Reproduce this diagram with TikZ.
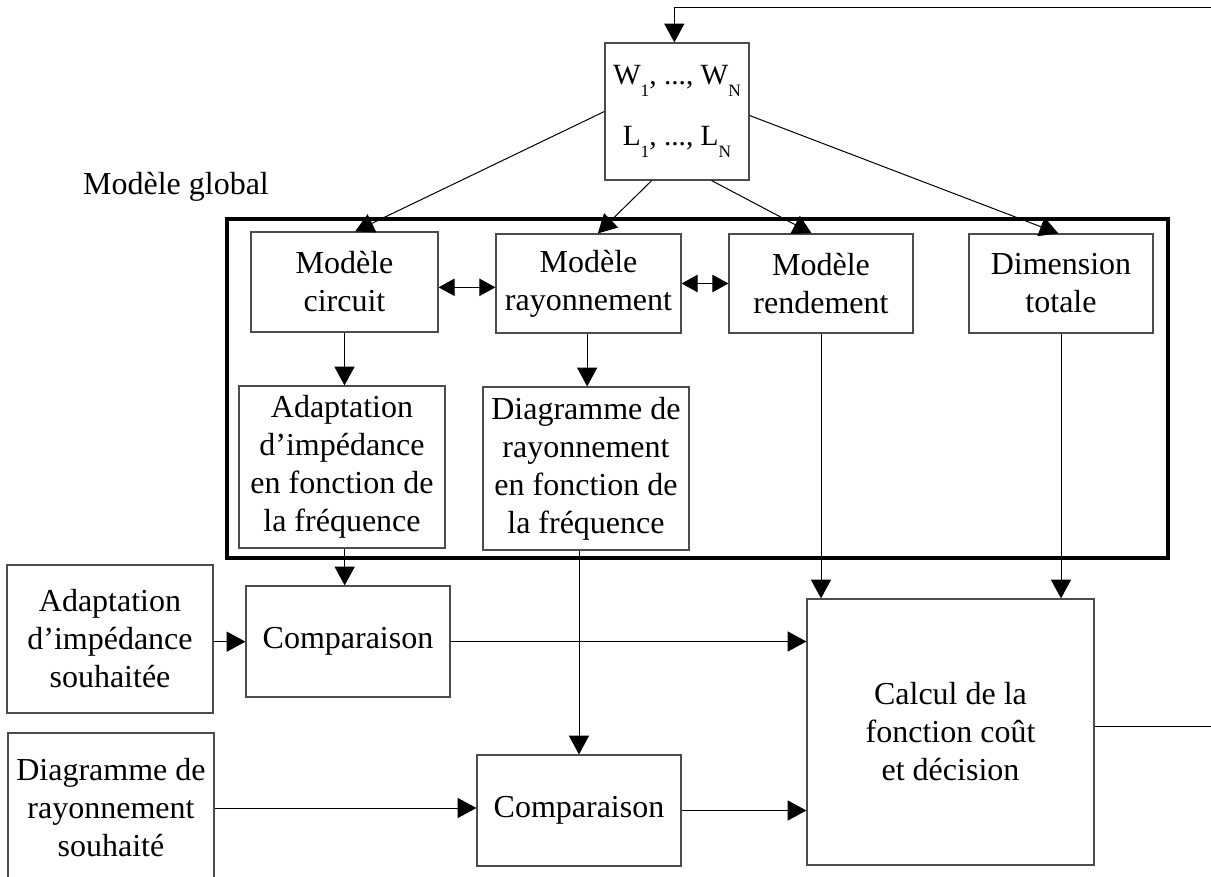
\documentclass[tikz,border=0pt]{standalone}
\usepackage{fontspec}
\setmainfont{Liberation Serif}
\usetikzlibrary{arrows.meta,calc}
\newcommand{\sbs}[1]{\raisebox{-0.4em}{\fontsize{13}{13}\selectfont #1}}
\begin{document}
\begin{tikzpicture}[x=0.75pt,y=-0.75pt,
  txt/.style={font=\fontsize{24}{28.5}\selectfont},
  bx/.style n args={2}{draw=black!70, line width=0.9pt, inner sep=0pt, align=center, txt,
     minimum width=#1*0.75pt, minimum height=#2*0.75pt},
  conn/.style={line width=0.75pt, draw=black},
  arr/.style={conn, -{Triangle[length=14pt,width=15pt]}},
  darr/.style={conn, {Triangle[length=12pt,width=13pt]}-{Triangle[length=12pt,width=13pt]}},
  frame/.style={draw=black, line width=2.4pt}
]
\useasboundingbox (0,0) rectangle (1211,877);

% big frame
\draw[frame] (227,219) rectangle (1168,558);
\node[txt, anchor=base] (glob) at (176,195) {Modèle global};

% nodes
\node[bx={144}{137}, font=\fontsize{22}{26}\selectfont] (W) at (677,111.5) {W\sbs{1}, ..., W\sbs{N}\\[20pt] L\sbs{1}, ..., L\sbs{N}};
\node[bx={187}{100}] (circ) at (344.5,282) {Modèle\\circuit};
\node[bx={185}{99}] (ray) at (588.5,283.5) {Modèle\\rayonnement};
\node[bx={184}{99}] (rend) at (821,283.5) {Modèle\\rendement};
\node[bx={184}{99}] (dim) at (1061,283.5) {Dimension\\totale};
\node[bx={206}{162}] (adapt) at (342,467) {Adaptation\\d'impédance\\en fonction de\\la fréquence};
\node[bx={206}{163}] (diag) at (586,468.5) {Diagramme de\\rayonnement\\en fonction de\\la fréquence};
\node[bx={204}{111}] (cmpa) at (348,641.5) {Comparaison};
\node[bx={206}{148}] (souha) at (110,639) {Adaptation\\d'impédance\\souhaitée};
\node[bx={206}{150}] (souhb) at (111,808) {Diagramme de\\rayonnement\\souhaité};
\node[bx={204}{111}] (cmpb) at (579,810.5) {Comparaison};
\node[bx={287}{266}] (calc) at (950.5,732) {Calcul de la\\fonction coût\\et décision};

% connectors from W
\draw[arr] (W.west) -- ([xshift=8pt]circ.north);
\draw[arr] ([xshift=-19pt]W.south) -- ([xshift=7pt]ray.north);
\draw[arr] ([xshift=26pt]W.south) -- ([xshift=-7pt]rend.north);
\draw[arr] ([yshift=-3pt]W.east) -- ([xshift=-2pt]dim.north);

% double arrows
\draw[darr] ([yshift=-4pt]circ.east) -- ([yshift=-4pt]circ.east -| ray.west);
\draw[darr] (ray.east) -- (ray.east -| rend.west);

% downward
\draw[arr] (circ.south) -- (circ.south |- adapt.north);
\draw[arr] ([xshift=-1pt]ray.south) -- ([xshift=-1pt]ray.south |- diag.north);
\draw[arr] (rend.south) -- (rend.south |- calc.north);
\draw[arr] (dim.south) -- (dim.south |- calc.north);
\draw[arr] ([xshift=2pt]adapt.south) -- ([xshift=2pt]adapt.south |- cmpa.north);
\draw[arr] (cmpb.north |- diag.south) -- (cmpb.north);

% horizontal
\draw[arr] ([yshift=-2pt]souha.east) -- ([yshift=-2pt]souha.east -| cmpa.west);
\draw[arr] (cmpa.east) -- (cmpa.east -| calc.west);
\draw[arr] (souhb.east) -- (souhb.east -| cmpb.west);
\draw[arr] (cmpb.east) -- (cmpb.east -| calc.west);

% feedback
\coordinate (fbr) at (1214,726);
\coordinate (fbt) at (1214,8);
\draw[arr] (calc.east |- fbr) -- (fbr) -- (fbt) -- ([xshift=-2pt]W.north |- fbt) -- ([xshift=-2pt]W.north);
\end{tikzpicture}
\end{document}
